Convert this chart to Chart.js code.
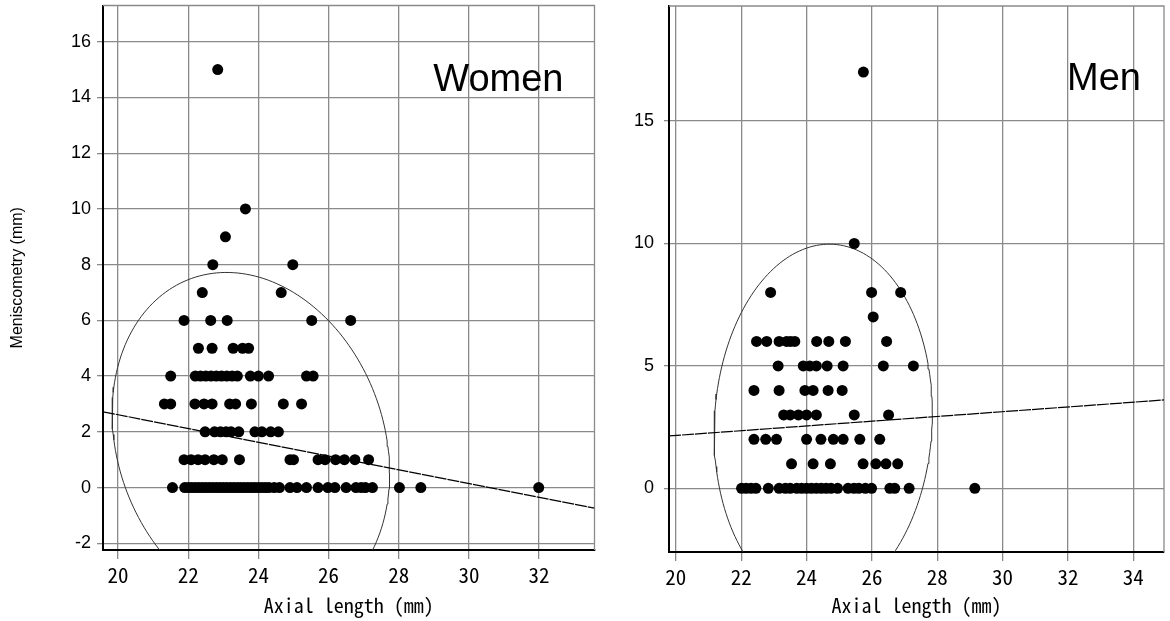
<!DOCTYPE html>
<html>
<head>
<meta charset="utf-8">
<script src="https://cdn.jsdelivr.net/npm/chart.js@4.4.0/dist/chart.umd.min.js"></script>
<style>
  body { margin: 0; background: #fff; }
  canvas { position: absolute; top: 0; }
</style>
</head>
<body>
<canvas id="women" width="600" height="621" style="left:0"></canvas>
<canvas id="men" width="570" height="621" style="left:600px"></canvas>
<script>
const womenLevels = [0, 1, 2, 3, 4, 5, 6, 7, 8, 9, 10, 15];
const womenAxial = [
  [21.55, 21.9, 22.0, 22.1, 22.2, 22.3, 22.4, 22.5, 22.6, 22.7, 22.8, 22.9, 23.0, 23.1, 23.2, 23.3, 23.4, 23.5,
   23.6, 23.7, 23.8, 23.9, 24.0, 24.1, 24.2, 24.3, 24.45, 24.6, 24.9, 25.1, 25.37, 25.7, 25.98, 26.18, 26.5,
   26.78, 26.93, 27.05, 27.25, 28.02, 28.63, 31.99],
  [21.88, 22.08, 22.28, 22.48, 22.73, 22.97, 23.46, 24.9, 25.0, 25.7, 25.9, 26.2, 26.45, 26.75, 27.14],
  [22.48, 22.75, 22.92, 23.08, 23.22, 23.44, 23.9, 24.1, 24.35, 24.57],
  [21.32, 21.5, 22.19, 22.45, 22.68, 23.18, 23.35, 23.8, 24.71, 25.23],
  [21.5, 22.2, 22.35, 22.5, 22.65, 22.8, 22.95, 23.1, 23.25, 23.4, 23.77, 24.0, 24.29, 25.37, 25.56],
  [22.29, 22.68, 23.28, 23.55, 23.72],
  [21.88, 22.64, 23.11, 25.52, 26.63],
  [22.4, 24.65],
  [22.7, 24.98],
  [23.06],
  [23.63],
  [22.84]
];

const menLevels = [0, 1, 2, 3, 4, 5, 6, 7, 8, 10, 17];
const menAxial = [
  [22.01, 22.15, 22.3, 22.45, 22.83, 23.16, 23.35, 23.5, 23.7, 23.85, 24.0, 24.15, 24.3, 24.45, 24.6, 24.75,
   24.95, 25.27, 25.45, 25.6, 25.8, 25.99, 26.55, 26.7, 27.14, 29.15],
  [23.54, 24.2, 24.73, 25.73, 26.12, 26.43, 26.79],
  [22.39, 22.75, 23.08, 24.0, 24.44, 24.82, 25.12, 25.63, 26.24],
  [23.3, 23.5, 23.75, 24.0, 24.3, 25.46, 26.51],
  [22.39, 23.16, 23.95, 24.2, 24.66, 25.09],
  [23.13, 23.9, 24.1, 24.3, 24.63, 25.12, 26.35, 27.27],
  [22.47, 22.78, 23.16, 23.39, 23.51, 23.64, 24.31, 24.68, 25.19, 26.45],
  [26.04],
  [22.9, 25.99, 26.88],
  [25.46],
  [25.74]
];

// tick labels
const womenXTicks = [20, 22, 24, 26, 28, 30, 32];
const womenYTicks = [-2, 0, 2, 4, 6, 8, 10, 12, 14, 16];
const menXTicks = [20, 22, 24, 26, 28, 30, 32, 34];
const menYTicks = [0, 5, 10, 15];

// regression lines (slope, intercept) and confidence ellipses
const womenFit = [-0.247, 7.554];
const menFit = [0.097, 0.22];
const womenEllipse = [23.785, 1.595, 3.955, -1.075, 6.03];
const menEllipse = [24.51, 2.66, 3.34, 0.41, 7.30];

function toPoints(levels, rows) {
  const pts = [];
  levels.forEach((lv, i) => rows[i].forEach(x => pts.push({ x: x, y: lv })));
  return pts;
}

function fitLine(fit, xmin, xmax) {
  return [xmin, xmax].map(x => ({ x: x, y: fit[1] + fit[0] * x }));
}

function ellipsePath(e) {
  const [cx, cy, ax, by, bz] = e;
  const pts = [];
  for (let i = 0; i <= 200; i++) {
    const t = i / 200 * Math.PI * 2;
    pts.push({ x: cx + ax * Math.cos(t), y: cy + by * Math.cos(t) + bz * Math.sin(t) });
  }
  return pts;
}

// no label overhang padding, the plot box is placed by layout.padding only
function noOverhang(s) {
  s.paddingTop = 0;
  s.paddingBottom = 0;
  s.paddingLeft = 0;
  s.paddingRight = 0;
}

const frame = {
  id: 'frame',
  beforeDatasetsDraw(chart) {
    const { ctx, chartArea: a } = chart;
    ctx.save();
    ctx.strokeStyle = '#8a8a8a';
    ctx.lineWidth = 1.3;
    ctx.beginPath();
    ctx.moveTo(a.left, a.top);
    ctx.lineTo(a.right, a.top);
    ctx.lineTo(a.right, a.bottom);
    ctx.stroke();
    ctx.restore();
  }
};

const cornerLabel = {
  id: 'cornerLabel',
  afterDatasetsDraw(chart, args, opts) {
    const { ctx, chartArea: a } = chart;
    ctx.save();
    ctx.font = '38px "Liberation Sans", Arial, sans-serif';
    ctx.fillStyle = '#000';
    ctx.textAlign = 'right';
    ctx.textBaseline = 'alphabetic';
    ctx.fillText(opts.text, a.right - opts.right, a.top + opts.baseline);
    ctx.restore();
  }
};

const monoFont = "'Noto Sans Mono CJK JP', 'DejaVu Sans Mono', monospace";
const sansFont = "'Liberation Sans', Arial, sans-serif";

function panel(id, p) {
  return new Chart(document.getElementById(id), {
    type: 'scatter',
    data: {
      datasets: [
        {
          data: p.points,
          backgroundColor: '#000',
          borderWidth: 0,
          pointRadius: 5.5,
          pointHoverRadius: 5.5
        },
        {
          data: fitLine(p.fit, p.xMin, p.xMax),
          showLine: true,
          borderColor: '#000',
          borderWidth: 1.2,
          borderDash: [12, 1],
          pointRadius: 0
        },
        {
          data: ellipsePath(p.ellipse),
          showLine: true,
          borderColor: '#333',
          borderWidth: 1,
          pointRadius: 0
        }
      ]
    },
    options: {
      responsive: false,
      animation: false,
      events: [],
      layout: { padding: p.padding },
      plugins: {
        legend: { display: false },
        tooltip: { enabled: false },
        cornerLabel: p.label
      },
      scales: {
        x: {
          type: 'linear',
          min: p.xMin,
          max: p.xMax,
          afterBuildTicks: s => { s.ticks = p.xTicks.map(v => ({ value: v })); },
          afterFit: s => { s.height = p.xHeight; noOverhang(s); },
          grid: { color: '#8a8a8a', lineWidth: 1.3, tickLength: 9 },
          border: { color: '#000', width: 2 },
          ticks: { color: '#000', padding: 3, maxRotation: 0, font: { family: monoFont, size: 21 } },
          title: { display: true, text: 'Axial length (mm)', color: '#000', padding: 0, font: { family: monoFont, size: 20 } }
        },
        y: {
          type: 'linear',
          min: p.yMin,
          max: p.yMax,
          afterBuildTicks: s => { s.ticks = p.yTicks.map(v => ({ value: v })); },
          afterFit: s => { s.width = p.yWidth; noOverhang(s); },
          grid: { color: '#8a8a8a', lineWidth: 1.3, tickLength: p.yTickLength },
          border: { color: '#000', width: 2 },
          ticks: { color: '#000', padding: p.yPad, font: { family: sansFont, size: 18 } },
          title: { display: p.yTitle, text: 'Meniscometry (mm)', color: '#000', padding: { top: 8, bottom: 0 }, font: { family: sansFont, size: 16 } }
        }
      }
    },
    plugins: [frame, cornerLabel]
  });
}

panel('women', {
  points: toPoints(womenLevels, womenAxial),
  fit: womenFit,
  ellipse: womenEllipse,
  xMin: 19.57, xMax: 33.58, yMin: -2.24, yMax: 17.3,
  xTicks: womenXTicks, yTicks: womenYTicks,
  padding: { left: 0, top: 5, right: 2, bottom: 4 },
  xHeight: 67, yWidth: 103, yTickLength: 6, yPad: 6, yTitle: true,
  label: { text: 'Women', right: 31, baseline: 85 }
});

panel('men', {
  points: toPoints(menLevels, menAxial),
  fit: menFit,
  ellipse: menEllipse,
  xMin: 19.79, xMax: 34.94, yMin: -2.6, yMax: 19.7,
  xTicks: menXTicks, yTicks: menYTicks,
  padding: { left: 0, top: 6, right: 6, bottom: 4 },
  xHeight: 65, yWidth: 69, yTickLength: 5, yPad: 10, yTitle: false,
  label: { text: 'Men', right: 23, baseline: 84 }
});
</script>
</body>
</html>
